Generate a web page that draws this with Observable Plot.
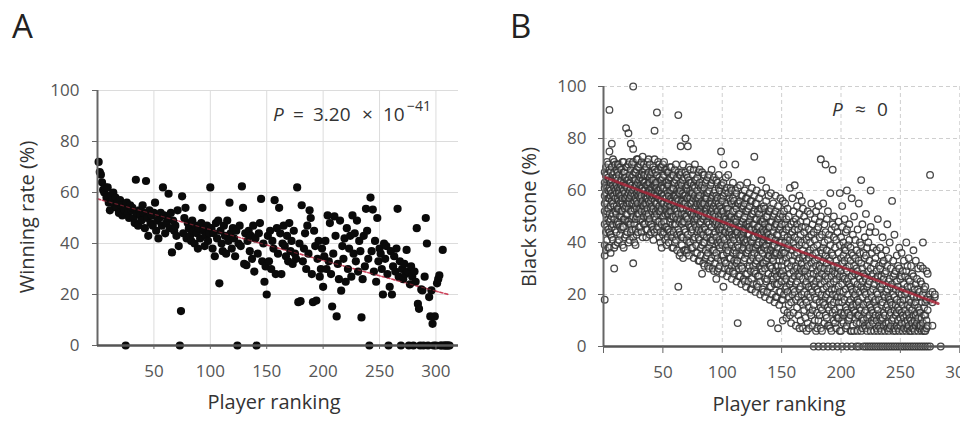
<!DOCTYPE html>
<html><head><meta charset="utf-8">
<script src="https://cdn.jsdelivr.net/npm/d3@7"></script>
<script src="https://cdn.jsdelivr.net/npm/@observablehq/plot@0.6"></script>
<style>
html,body{margin:0;padding:0;background:#fff;overflow:hidden;width:960px;height:425px;}
#wrap{position:relative;width:960px;height:425px;overflow:hidden;font-family:"Open Sans",sans-serif;color:#333;}
.abs{position:absolute;white-space:nowrap;line-height:1;}
.panel{font-size:33px;color:#222;}
.ytitle{font-size:20px;transform-origin:center center;transform:translate(-50%,-50%) rotate(-90deg);}
.xtitle{font-size:20px;transform:translateX(-50%);}
.ann{font-size:19px;color:#333;}
.ann span{position:absolute;top:0;}
.ann .sup{font-size:14px;top:-6px;}
#pa,#pb{position:absolute;top:0;}
#pa{left:0;width:480px;} #pb{left:480px;width:520px;}
#pa svg,#pb svg{max-width:none !important;}
</style></head>
<body><div id="wrap">
<div id="pa"></div><div id="pb"></div>
<div class="abs panel" style="left:12px;top:9px;">A</div>
<div class="abs panel" style="left:510px;top:9px;">B</div>
<div class="abs ytitle" style="left:27px;top:217px;">Winning rate (%)</div>
<div class="abs ytitle" style="left:529px;top:217px;">Black stone (%)</div>
<div class="abs xtitle" style="left:274px;top:392px;">Player ranking</div>
<div class="abs xtitle" style="left:779px;top:394px;">Player ranking</div>
<div class="abs ann" style="left:273px;top:105px;">
  <span style="left:0"><i>P</i></span><span style="left:20px">=</span><span style="left:40px">3.20</span>
  <span style="left:89px">×</span><span style="left:110px">10</span><span class="sup" style="left:134px">−41</span>
</div>
<div class="abs ann" style="left:832px;top:100px;">
  <span style="left:0"><i>P</i></span><span style="left:23px">≈</span><span style="left:45px">0</span>
</div>
</div>
<script>
// ---- Panel A: winning rate (%) by player ranking (rank = index + 1) ----
const winA = [
 72,68,67,64,61,60,62,58,62,56,
 53,59,57,60,55,58,54,56,52,57,
 55,51,54,53,0,56,52,50,55,53,
 54,50,48,65,52,47,53,51,49,55,
 52,46,64.5,50,43,53,48,51,47,52,
 56,45,49,42,50,52,47,62,51,44,
 48,50,59.5,46,52,36.5,49,45,47,43,
 53,39,0,13.5,58.5,44,50,54,42,48,
 46,43,41,49,45,40,47,44,38,46,
 42,48,54,45,39,43,47,41,44,62,
 46,38,44,35,48,42,49,24.4,45,40,
 37,47,43,36,49,41,56,44,38,46,
 42,35,45,0,40,47,39,62.4,54,32,
 44,31.5,41,45,37,43,34,47,29,42,
 0,36,44,48,57.5,33,40,25,31,20,
 43,33,45,30,41,38,57,28,46,36,
 54,44,28,40,47,39,35,43,33,48,
 37,41,32,45,36,34,62,17,40,17.4,
 55,33,38,44,30,47,36,53,50,28,
 17,45,39,17.6,34,41,27,30,38,23,
 35,41,30,51,33,48,28,15.3,36,50.6,
 43,11.4,32,26,49,21.5,39,34,42,25,
 46,30,38,43,27,51,36,44,33,49,
 29,41,37,11,26,43,31,53.6,45,34,
 0,58,37,53.3,29,41,25,50,33,38,
 36,30,20,40,34,39,28,0,23,37,
 20,31,35,29,38,53.6,27,33,0,30,
 26,32,28,37.5,29,0,24,31,27,0,
 29,25,46,16.3,14.4,0,22,21.6,0,27,
 50,40,0,19,11.4,21.6,8.5,0,11.4,0,
 24.4,26,27.5,0,0,37.5,0,0,0,0,
 0,0
];
const trendAx = [0, 311];
const trendAy = [57.5, 20];

// ---- Panel B: black stone (%) — rows of [ranking, values...] ----
const rowsB1 = [
[1,18,35,39,47,52,58,63,67,55,61],[2,37,44,56,59,62,69,51,66],[3,41,46,55,61,64,71,52,66],
[4,38,49,53,57,65,70,60,45],[5,91,75,38,44,57,61,68,51,48,64],[6,36,43,54,58,63,67,60,49],
[7,78,42,50,56,64,69,46,59],[8,41,47,55,62,66,72,51,58],[9,30,38,49,54,61,67,71,58],
[10,39,45,52,60,65,70,57,63],[11,44,51,59,65,68,54,47,62],[12,40,48,53,61,67,57,64,70],
[13,41,47,56,60,66,70,53,59],[14,43,50,55,63,69,58,61,46],[15,45,52,58,64,68,50,62,56],
[16,39,46,55,61,66,71,57,52],[17,38,46,54,60,67,71,49,63],[18,42,49,57,62,67,59,65,53],
[19,84,43,51,57,62,69,54,65],[20,44,51,58,64,69,61,48,55],[21,82,40,48,59,64,70,53,56],
[22,41,47,55,60,66,71,57,63],[23,78,44,52,58,63,68,61,47],[24,45,52,59,65,70,55,62,49],
[25,100,76,32,42,55,60,66,71,50],[26,40,47,53,61,67,58,64,56],[27,39,49,54,62,67,57,64,45],
[28,43,50,56,62,68,72,59,53],[29,44,51,58,63,69,72,55,60],[30,46,53,58,64,69,61,51,66],
[31,46,49,59,65,70,57,62,53],[32,44,52,55,61,71,66,58],[33,42,48,56,61,67,73,54,64],
[34,47,50,60,63,70,54,66],[35,47,52,58,63,68,60,55,66],[36,42,45,55,62,57,69,51],
[37,45,50,57,62,66,71,53,59],[38,48,51,60,63,72,56,67],[39,43,49,55,60,65,70,58,63],
[40,44,47,56,61,66,53,59],[41,46,52,57,61,67,54,64,59],[42,41,45,53,58,64,69,62],
[43,83,44,50,56,62,68,72,59],[44,49,52,55,61,67,58,63],[45,90,45,51,58,63,66,55,61],
[46,46,48,57,60,68,71,53],[47,42,48,54,60,65,70,57,52],[48,40,44,52,56,64,69,61],
[49,38,47,53,59,64,69,56,62],[50,43,50,55,58,65,70,61],[51,44,50,55,61,66,71,58,48],
[52,41,46,53,57,63,68,51],[53,39,46,52,57,63,68,60,54],[54,42,45,51,59,62,67,55],
[55,40,45,51,56,62,67,58,64],[56,44,48,54,60,65,69,52],[57,43,49,54,60,65,69,52,57],
[58,38,42,50,56,61,66,47],[59,38,44,50,55,61,66,58,63],[60,40,47,53,58,63,68,55],
[61,41,47,53,58,64,70,56,50],[62,37,43,49,57,60,65,52],[63,89,23,45,51,56,62,67,59],
[64,35,44,48,54,59,66,61],[65,77,36,43,49,55,60,66,53,63],[66,39,42,51,56,62,67,47],
[67,34,42,48,53,59,64,70,56],[68,37,45,48,55,58,65,51],[69,80,37,44,50,55,61,67,58],
[70,36,41,50,53,61,66,57],[71,77,37,43,49,54,60,65,57,62],[72,35,40,47,52,58,64,69],
[73,40,46,52,57,63,68,55,60],[74,38,44,46,55,59,63,51],[75,38,45,50,56,61,66,53,59],
[76,34,41,48,51,57,62,68],[77,42,47,53,58,64,70,49,61],[78,36,39,46,54,56,64,50],
[79,36,44,49,55,60,65,52,57],[80,33,42,45,51,57,62,67],[81,33,41,47,52,58,63,68,55],
[82,35,38,44,50,55,61,48],[83,28,39,45,51,56,62,67,54],[84,32,40,43,49,55,60,66],
[85,31,40,46,50,55,61,66,58],[86,34,37,45,53,57,63,52],[87,35,42,48,53,59,64,57,51],
[88,31,36,44,48,54,59,65],[89,30,38,44,50,55,60,66,47],[90,33,40,42,51,56,62,53],
[91,34,41,46,52,57,63,68,55],[92,30,37,41,48,53,58,64],[93,29,37,43,49,54,59,65,51],
[94,32,35,44,47,55,60,50],[95,26,36,42,48,53,58,64,56],[96,29,34,40,46,52,57,63],
[97,30,39,45,50,55,61,66,47],[98,31,38,41,49,54,60,45],[99,75,33,40,46,51,57,62,53],
[100,28,35,39,45,52,56,62]
];
const rowsB2 = [
[101,70,23,35,42,47,52,58,63,49],[102,30,33,41,48,50,59,44],[103,32,38,44,49,54,60,65],
[104,27,36,39,46,53,55,61],[105,66,30,37,43,48,53,59,51],[106,29,34,42,44,51,57,48],
[107,34,40,45,50,56,61,47],[108,26,31,39,43,50,55,60],[109,29,36,42,47,52,57,63],
[110,28,33,37,46,49,56,41],[111,70,31,38,43,49,54,60,45],[112,25,32,36,44,48,53,59],
[113,9,33,39,44,50,55,61],[114,27,30,38,42,51,55,46],[115,27,35,41,46,51,56,62],
[116,24,31,35,43,47,54,58],[117,30,37,42,48,53,58,45],[118,26,33,38,41,49,54,44],
[119,25,34,40,45,50,55,60],[120,23,28,36,40,47,52,57],[121,28,36,41,47,52,57,63],
[122,25,30,37,43,46,53,39],[123,31,38,43,48,54,59,46],[124,22,29,33,41,45,50,56],
[125,22,26,35,40,45,51,56,61],[126,24,31,34,42,47,51,38],[127,73,29,36,42,47,52,58],
[128,21,28,32,38,45,49,55],[129,24,33,39,44,49,55,60],[130,23,27,35,39,46,52,43],
[131,27,34,40,46,51,57,43],[132,20,25,31,37,44,49,53],[133,30,37,43,48,53,59,64],
[134,22,29,32,40,45,48,36],[135,21,32,38,44,49,54,41],[136,19,26,30,38,42,47,53],
[137,25,33,39,45,50,56,61],[138,21,26,34,37,44,50,41],[139,28,35,41,46,52,58,43],
[140,18,23,31,35,41,46,52],[141,9,23,31,37,42,48,53,59],[142,20,27,30,38,42,48,34],
[143,26,33,39,44,50,55,36],[144,17,24,28,35,39,46,51],[145,19,29,36,41,47,52,58],
[146,19,24,31,36,43,47,27],[147,7,24,31,38,43,49,54],[148,16,21,29,33,40,45,50],
[149,21,28,35,40,46,51,57],[150,18,25,28,36,40,47,31],
[151,10,18,29,33,37,44,50,56],[152,14,20,27,36,43,52],[153,22,25,36,40,47,55],
[154,11,23,26,34,45,49],[155,13,21,32,38,42,53],[156,16,19,30,39,46,50],
[157,12,24,28,35,41,61],[158,9,17,25,31,43,47],[159,20,26,33,37,44,57],
[160,13,22,29,40,48,52],[161,21,27,35,42,45,62],[162,8,18,24,31,38,49],
[163,15,25,30,36,47,54],[164,12,19,28,33,41,45],[165,7,22,27,34,39,51,58],
[166,10,17,23,30,43,48],[167,20,29,32,40,46,56],[168,7,16,26,34,37,53],
[169,14,21,30,35,44,50],[170,11,18,24,29,39,46],[171,6,17,25,33,41,48],
[172,9,20,27,31,36,52],[173,7,15,23,34,42,45],[174,13,19,28,37,40,51],
[175,12,22,26,32,43,55],[176,8,14,21,30,35,47],[177,0,16,24,28,38,44],
[178,10,19,23,33,41,49],[179,6,18,25,31,36,52],[180,7,13,22,29,39,45],
[181,0,10,21,27,34,46,54],[182,12,17,26,31,42,48],[183,72,7,15,24,30,37,50],
[184,6,14,20,28,36,43],[185,0,17,22,33,38,55],[186,9,16,25,30,40,47],
[187,70,12,19,27,35,44],[188,11,20,23,32,37,49],[189,0,8,15,26,29,41,52],
[190,8,14,21,30,34,43],[191,7,18,24,33,39,59],[192,6,16,22,27,36,45],
[193,68,0,13,20,29,35,47],[194,10,17,25,31,42,50],[195,9,14,22,28,38,46],
[196,7,12,20,26,33,41],[197,0,11,19,28,31,44],[198,11,17,23,30,36,48],
[199,6,15,21,27,39,59],[200,6,13,19,29,34,42]
];
const rowsB3 = [
[201,0,10,17,24,32,46,54],[202,9,12,21,27,35,40],[203,13,18,26,33,38,49],
[204,7,15,22,30,37,44],[205,0,8,14,25,29,45,60],[206,10,13,20,26,34,39],
[207,11,17,24,31,41,47],[208,6,12,18,23,33,38],[209,0,6,15,22,27,36,57],
[210,8,16,21,29,35,43],[211,6,14,19,25,31,50],[212,11,13,20,28,34,41],
[213,0,9,16,22,30,37],[214,6,12,18,24,29,45],[215,0,12,17,27,33,55],
[216,9,15,21,26,36,40],[217,64,6,14,23,32,39],[218,7,11,19,25,30,47],
[219,0,10,16,22,28,36],[220,8,13,21,27,34,42],[221,0,7,14,20,26,35,51],
[222,6,11,17,23,31,38],[223,0,9,18,24,29,40],[224,8,12,16,25,33,44],
[225,60,0,6,15,21,30,46],[226,10,14,19,27,36],[227,0,9,13,22,28,38],
[228,6,11,17,24,32],[229,0,12,18,26,34,44],[230,7,10,15,21,29,37],
[231,0,6,14,20,27,49],[232,8,12,18,25,31],[233,0,7,11,23,30,38],
[234,6,10,16,22,27,35],[235,0,11,17,24,32,42],[236,8,13,20,26,33],
[237,0,6,12,19,28],[238,9,15,21,29,37],[239,0,7,16,22,31,47],
[240,6,9,14,19,25,34],[241,0,7,12,18,26,40],[242,8,13,17,23,30],
[243,56,0,10,16,24],[244,6,11,20,27,33],[245,0,7,14,19,28,43],
[246,6,12,16,22,29],[247,0,8,13,18,25,35],[248,7,10,15,23,31],
[249,0,6,14,21,30,38],[250,8,11,17,26],[251,0,9,13,20,27,36],
[252,6,12,16,22,29],[253,0,7,11,18,24,33],[254,9,14,20,27],
[255,0,6,12,21,29,40],[256,7,10,16,23,31],[257,0,8,13,18,26,34],
[258,6,11,15,25],[259,0,6,10,17,23,31],[260,7,9,14,20,28],
[261,0,7,12,19,27,37],[262,6,10,16,22],[263,0,8,12,17,24,33],
[264,9,13,19,26],[265,0,6,11,15,22,30],[266,7,8,14,21],
[267,0,8,13,19,25,31],[268,6,11,17,24],[269,0,7,9,20,30,40],
[270,6,12,15,22],[271,0,6,12,17,23],[272,7,10,18,29],[273,0,8,14,19,28],
[275,66,0,20,18],[277,21,17,8],[279,19,20],[284,0]
];
const trendBx = [0, 283];
const trendBy = [65.3, 16.3];

const xTicks = [50,100,150,200,250,300];
const yTicks = [0,20,40,60,80,100];

const dataA = winA.map((v,i)=>({x:i+1, y:v}));
const dataB = [...rowsB1, ...rowsB2, ...rowsB3].flatMap(r => r.slice(1).map(v => ({x:r[0], y:v})));
const trendA = trendAx.map((x,i)=>({x, y:trendAy[i]}));
const trendB = trendBx.map((x,i)=>({x, y:trendBy[i]}));

const font = {fontFamily:"'Open Sans', sans-serif", fontSize:"17px", color:"#555", background:"transparent", overflow:"visible"};

const plotA = Plot.plot({
  width:480, height:425, marginLeft:97, marginRight:22, marginTop:90, marginBottom:80,
  x:{domain:[0,320]}, y:{domain:[0,100]}, style:font,
  marks:[
    Plot.gridX(xTicks,{stroke:"#dcdcdc", strokeOpacity:1}),
    Plot.gridY(yTicks.slice(1),{stroke:"#dcdcdc", strokeOpacity:1}),
    Plot.line(trendA,{x:"x", y:"y", stroke:"#d0405a", strokeWidth:1.6, strokeDasharray:"3,2", strokeOpacity:0.9}),
    Plot.dot(dataA,{x:"x", y:"y", r:4.1, fill:"#0a0a0a", stroke:"none"}),
    Plot.line(trendA,{x:"x", y:"y", stroke:"#c03048", strokeWidth:1.2, strokeDasharray:"3,3", strokeOpacity:0.5}),
    Plot.ruleX([0],{stroke:"#666", strokeWidth:2}),
    Plot.ruleY([0],{stroke:"#555", strokeWidth:2.5}),
    Plot.axisY({ticks:yTicks, tickSize:5, tickPadding:13, label:null, stroke:"#666"}),
    Plot.axisX({ticks:xTicks, tickSize:4, tickPadding:15, label:null, stroke:"#666"})
  ]
});
document.getElementById("pa").append(plotA);

const plotB = Plot.plot({
  width:520, height:425, marginLeft:123, marginRight:17, marginTop:86, marginBottom:79,
  x:{domain:[0,320]}, y:{domain:[0,100]}, style:font,
  marks:[
    Plot.gridX(xTicks,{stroke:"#cfcfcf", strokeOpacity:1, strokeDasharray:"4,3"}),
    Plot.gridY(yTicks.slice(1),{stroke:"#cfcfcf", strokeOpacity:1, strokeDasharray:"4,3"}),
    Plot.dot(dataB,{x:"x", y:"y", r:3.3, fill:"white", fillOpacity:0.25, stroke:"#333", strokeWidth:1.3, strokeOpacity:0.9}),
    Plot.line(trendB,{x:"x", y:"y", stroke:"#a82638", strokeWidth:2.8, strokeDasharray:"7,2", strokeOpacity:0.85}),
    Plot.ruleX([0],{stroke:"#666", strokeWidth:2}),
    Plot.ruleY([0],{stroke:"#555", strokeWidth:2.5}),
    Plot.axisY({ticks:yTicks, tickSize:5, tickPadding:12, label:null, stroke:"#666"}),
    Plot.axisX({ticks:[0,...xTicks], tickFormat:d=>d===0?"":d, tickSize:7, tickPadding:12, label:null, stroke:"#666"})
  ]
});
document.getElementById("pb").append(plotB);
</script>
</body></html>
